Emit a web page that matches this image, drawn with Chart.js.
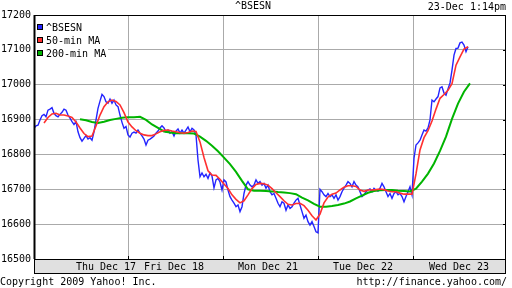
<!DOCTYPE html>
<html>
<head>
<meta charset="utf-8">
<script src="https://cdn.jsdelivr.net/npm/chart.js@4"></script>
<style>
html, body { margin: 0; padding: 0; background: #fff; }
#wrap { width: 512px; height: 288px; }
</style>
</head>
<body>
<div id="wrap"><canvas id="chart" width="512" height="288"></canvas></div>
<script>
// Timeline units: one trading session spans about 95 units
const sessionBreaks = [94, 189, 284, 379];
const dayLabels = ["Thu Dec 17", "Fri Dec 18", "Mon Dec 21", "Tue Dec 22", "Wed Dec 23"];
const dayLabelAt = [72, 140, 234, 329, 425];
const yTicks = [16500, 16600, 16700, 16800, 16900, 17000, 17100, 17200];

// ^BSESN index, one value every 2 units from unit 0
const bseStart = 0, bseStep = 2;
const bseValues = [
	16875, 16882, 16884, 16899, 16911, 16915, 16908, 16927, 16930, 16934,
	16918, 16911, 16908, 16915, 16921, 16930, 16927, 16913, 16904, 16894,
	16886, 16894, 16865, 16848, 16838, 16846, 16854, 16844, 16848, 16841,
	16865, 16899, 16932, 16953, 16972, 16966, 16951, 16947, 16959, 16947,
	16956, 16942, 16937, 16913, 16892, 16875, 16880, 16856, 16850, 16861,
	16864, 16861, 16870, 16861, 16853, 16844, 16827, 16841, 16844, 16848,
	16853, 16861, 16867, 16876, 16882, 16876, 16865, 16870, 16861, 16865,
	16853, 16867, 16873, 16861, 16870, 16861, 16870, 16879, 16865, 16875,
	16870, 16856, 16784, 16736, 16747, 16736, 16743, 16731, 16747, 16738,
	16704, 16727, 16731, 16721, 16698, 16727, 16721, 16698, 16679, 16669,
	16660, 16650, 16655, 16636, 16650, 16688, 16712, 16722, 16712, 16707,
	16712, 16727, 16717, 16722, 16712, 16717, 16703, 16712, 16693, 16684,
	16688, 16674, 16660, 16650, 16664, 16660, 16640, 16655, 16645, 16650,
	16660, 16669, 16674, 16655, 16636, 16617, 16626, 16607, 16597, 16607,
	16593, 16578, 16575, 16700, 16693, 16684, 16679, 16688, 16679, 16684,
	16674, 16684, 16669, 16679, 16693, 16703, 16712, 16722, 16717, 16707,
	16722, 16712, 16707, 16693, 16679, 16684, 16693, 16698, 16701, 16693,
	16703, 16698, 16695, 16703, 16717, 16707, 16693, 16679, 16688, 16674,
	16688, 16693, 16684, 16688, 16679, 16664, 16679, 16693, 16707, 16684,
	16789, 16827, 16833, 16841, 16856, 16870, 16867, 16876, 16899, 16956,
	16951, 16959, 16966, 16991, 16994, 16976, 16970, 16988, 17005, 17042,
	17085, 17104, 17105, 17120, 17122, 17114, 17095, 17109,
];

// 50-min moving average, one value every 4 units from unit 10
const ma50Start = 10, ma50Step = 4;
const ma50Values = [
	16890, 16906, 16916, 16918, 16913, 16913, 16910, 16906, 16893, 16876,
	16860, 16851, 16853, 16882, 16913, 16937, 16951, 16956, 16952, 16942,
	16920, 16893, 16879, 16868, 16861, 16856, 16854, 16854, 16859, 16865,
	16869, 16870, 16867, 16865, 16862, 16861, 16863, 16867, 16866, 16836,
	16791, 16753, 16741, 16740, 16729, 16715, 16702, 16684, 16671, 16661,
	16667, 16684, 16702, 16714, 16717, 16716, 16712, 16702, 16690, 16679,
	16667, 16657, 16655, 16659, 16660, 16653, 16640, 16624, 16612, 16629,
	16661, 16678, 16686, 16689, 16698, 16706, 16710, 16710, 16708, 16698,
	16694, 16698, 16698, 16699, 16701, 16699, 16695, 16693, 16693, 16689,
	16686, 16686, 16686, 16744, 16813, 16848, 16868, 16896, 16930, 16961,
	16972, 16984, 17003, 17056, 17080, 17102, 17109,
];

// 200-min moving average, one value every 6 units from unit 46
const ma200Start = 46, ma200Step = 6;
const ma200Values = [
	16901, 16898, 16893, 16890, 16894, 16899, 16902, 16905, 16907, 16907,
	16908, 16899, 16886, 16876, 16866, 16863, 16861, 16861, 16861, 16860,
	16851, 16839, 16825, 16809, 16791, 16772, 16750, 16724, 16700, 16696,
	16696, 16695, 16694, 16692, 16691, 16689, 16686, 16676, 16668, 16658,
	16650, 16650, 16652, 16655, 16659, 16665, 16674, 16682, 16690, 16695,
	16697, 16698, 16698, 16696, 16695, 16694, 16702, 16722, 16745, 16774,
	16810, 16851, 16902, 16946, 16980, 17004,
];

const MONO = "'DejaVu Sans Mono', 'Liberation Mono', monospace";
const BLUE = "#2424ff";
const RED = "#ff3030";
const GREEN = "#00b400";

// Turns a series into points on the timeline
function toPoints(start, step, values) {
	return values.map((v, i) => ({ x: start + i * step, y: v }));
}

const legendItems = [
	{ label: "^BSESN", color: BLUE },
	{ label: "50-min MA", color: RED },
	{ label: "200-min MA", color: GREEN },
];

// Draws the frame, the label band, the legend box and the page texts
const yahooFrame = {
	id: "yahooFrame",
	beforeDraw(chart) {
		const { ctx, chartArea: a } = chart;
		ctx.save();
		ctx.fillStyle = "#fff";
		ctx.fillRect(0, 0, chart.width, chart.height);
		ctx.fillStyle = "#e0e0e0";
		ctx.fillRect(a.left, a.bottom, a.right - a.left, 14);
		ctx.strokeStyle = "#000";
		ctx.lineWidth = 1;
		ctx.strokeRect(a.left + 0.5, a.bottom + 0.5, a.right - a.left - 1, 14);
		ctx.restore();
	},
	afterDatasetsDraw(chart) {
		const { ctx, chartArea: a, scales } = chart;
		ctx.save();
		ctx.strokeStyle = "#000";
		ctx.lineWidth = 1;
		ctx.strokeRect(a.left + 0.5, a.top + 0.5, a.right - a.left - 1, a.bottom - a.top);

		// small ticks on the right edge and at the session breaks
		ctx.beginPath();
		scales.y.ticks.forEach((t) => {
			const py = Math.round(scales.y.getPixelForValue(t.value)) + 0.5;
			ctx.moveTo(a.right - 3, py);
			ctx.lineTo(a.right, py);
		});
		sessionBreaks.forEach((b) => {
			const px = Math.round(scales.x.getPixelForValue(b)) + 0.5;
			ctx.moveTo(px, a.bottom - 3);
			ctx.lineTo(px, a.bottom);
		});
		ctx.stroke();

		// legend
		ctx.fillStyle = "#fff";
		ctx.fillRect(a.left + 1, a.top + 5, 73, 45);
		ctx.fillRect(a.left + 2, a.top + 1, 72, 6);
		ctx.lineWidth = 2;
		ctx.beginPath();
		ctx.moveTo(a.left + 0.5, a.top);
		ctx.lineTo(a.left + 0.5, a.bottom);
		ctx.stroke();
		ctx.lineWidth = 1;
		ctx.font = `10px ${MONO}`;
		ctx.textBaseline = "middle";
		ctx.textAlign = "left";
		legendItems.forEach((item, i) => {
			const y = a.top + 9 + i * 13;
			ctx.fillStyle = item.color;
			ctx.fillRect(a.left + 3, y, 6, 6);
			ctx.strokeStyle = "#000";
			ctx.strokeRect(a.left + 3.5, y + 0.5, 5, 5);
			ctx.fillStyle = "#000";
			ctx.fillText(item.label, a.left + 12, y + 4);
		});
		ctx.restore();
	},
	afterDraw(chart) {
		const { ctx } = chart;
		ctx.save();
		ctx.fillStyle = "#000";
		ctx.font = `10px ${MONO}`;
		ctx.textBaseline = "middle";
		ctx.textAlign = "right";
		ctx.fillText("23-Dec 1:14pm", 506, 7);
		ctx.fillText("http://finance.yahoo.com/", 507, 282);
		ctx.textAlign = "left";
		ctx.fillText("Copyright 2009 Yahoo! Inc.", 0, 282);
		ctx.restore();
	},
};

const xTickValues = [...sessionBreaks, ...dayLabelAt].sort((a, b) => a - b);

function xLabel(value) {
	const i = dayLabelAt.indexOf(value);
	return i >= 0 ? dayLabels[i] : "";
}

new Chart(document.getElementById("chart"), {
	type: "line",
	data: {
		datasets: [
			{
				label: "50-min MA",
				data: toPoints(ma50Start, ma50Step, ma50Values),
				borderColor: RED,
				borderWidth: 1.6,
				order: 0,
			},
			{
				label: "200-min MA",
				data: toPoints(ma200Start, ma200Step, ma200Values),
				borderColor: GREEN,
				borderWidth: 2,
				order: 1,
			},
			{
				label: "^BSESN",
				data: toPoints(bseStart, bseStep, bseValues),
				borderColor: BLUE,
				borderWidth: 1.4,
				order: 2,
			},
		],
	},
	options: {
		responsive: false,
		animation: false,
		devicePixelRatio: 1,
		layout: {
			padding: { top: 0, right: 6, bottom: 15, left: 0 },
		},
		elements: {
			line: { tension: 0 },
			point: { radius: 0 },
		},
		plugins: {
			legend: { display: false },
			tooltip: { enabled: false },
			title: {
				display: true,
				text: "^BSESN",
				color: "#000",
				font: { family: MONO, size: 10, weight: "normal", lineHeight: 1 },
				padding: { top: 1, bottom: 4 },
			},
		},
		scales: {
			x: {
				type: "linear",
				min: 0,
				max: 472,
				afterBuildTicks: (s) => {
					s.ticks = xTickValues.map((v) => ({ value: v }));
				},
				afterFit: (s) => {
					s.height = 14;
				},
				ticks: {
					autoSkip: false,
					maxRotation: 0,
					minRotation: 0,
					padding: 2,
					color: "#000",
					font: { family: MONO, size: 10 },
					callback: (v) => xLabel(v),
				},
				grid: {
					drawTicks: false,
					color: (c) => (c.tick && c.tick.label === "" ? "#aaaaaa" : "rgba(0,0,0,0)"),
				},
				border: { display: false },
			},
			y: {
				min: yTicks[0],
				max: yTicks[yTicks.length - 1],
				afterBuildTicks: (s) => {
					s.ticks = yTicks.map((v) => ({ value: v }));
				},
				afterFit: (s) => {
					s.width = 34;
				},
				ticks: {
					padding: 3,
					color: "#000",
					font: { family: MONO, size: 10 },
					callback: (v) => String(v),
				},
				grid: {
					drawTicks: false,
					color: "#aaaaaa",
				},
				border: { display: false },
			},
		},
	},
	plugins: [yahooFrame],
});
</script>
</body>
</html>
